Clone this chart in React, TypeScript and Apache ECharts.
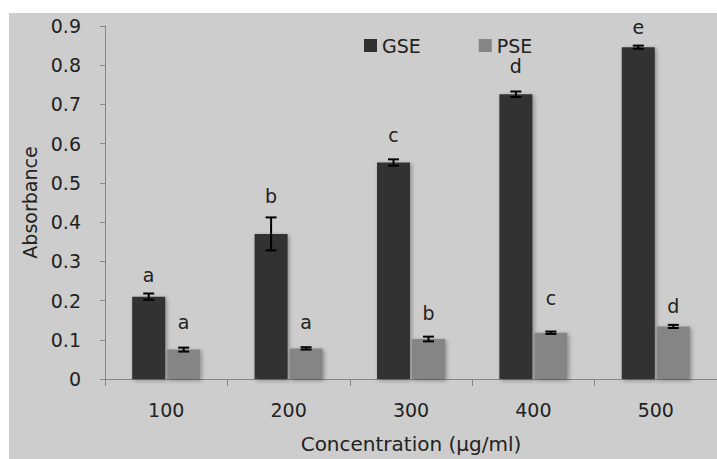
import React, { useEffect, useRef } from "react";
import * as echarts from "echarts";

const categories = ["100", "200", "300", "400", "500"];
const gseValues = [0.21, 0.37, 0.552, 0.726, 0.846];
const gseErrors = [0.008, 0.042, 0.008, 0.007, 0.004];
const pseValues = [0.075, 0.078, 0.102, 0.118, 0.134];
const pseErrors = [0.005, 0.003, 0.006, 0.003, 0.004];
const gseLetters = ["a", "b", "c", "d", "e"];
const pseLetters = ["a", "a", "b", "c", "d"];
const gseLetterY = [0.265, 0.4675, 0.6225, 0.7975, 0.8975];
const pseLetterY = [0.145, 0.145, 0.1675, 0.2075, 0.185];

const FONT = "DejaVu Sans";
const TEXT = "#222222";
const AXIS = "#868686";
const GSE_COLOR = "#303030";
const PSE_COLOR = "#858585";
const BAR_W = 33;
const GAP = 2;

function errorSeries(values: number[], errors: number[], letters: string[], letterY: number[], offset: number) {
  return {
    type: "custom",
    silent: true,
    clip: false,
    z: 10,
    data: values.map((v, i) => [i, v, errors[i], letterY[i]]),
    renderItem: (params: any, api: any) => {
      const idx = api.value(0);
      const v = api.value(1);
      const e = api.value(2);
      const ly = api.value(3);
      const top = api.coord([idx, v + e]);
      const bot = api.coord([idx, v - e]);
      const x = top[0] + offset;
      const cap = 5.5;
      const lp = api.coord([idx, ly]);
      return {
        type: "group",
        children: [
          { type: "line", shape: { x1: x, y1: top[1], x2: x, y2: bot[1] }, style: { stroke: "#000", lineWidth: 2 } },
          { type: "line", shape: { x1: x - cap, y1: top[1], x2: x + cap, y2: top[1] }, style: { stroke: "#000", lineWidth: 2 } },
          { type: "line", shape: { x1: x - cap, y1: bot[1], x2: x + cap, y2: bot[1] }, style: { stroke: "#000", lineWidth: 2 } },
          {
            type: "text",
            x: x,
            y: lp[1],
            style: {
              text: letters[params.dataIndex],
              fill: TEXT,
              font: `19px "${FONT}"`,
              align: "center",
              verticalAlign: "middle",
            },
          },
        ],
      };
    },
  };
}

export default function App() {
  const ref = useRef<HTMLDivElement>(null);
  useEffect(() => {
    document.body.style.margin = "0";
    document.body.style.overflow = "hidden";
    document.documentElement.style.overflow = "hidden";
    if (!ref.current) return;
    const chart = echarts.init(ref.current, null, { renderer: "svg" });
    const barShadow = {
      shadowBlur: 4,
      shadowColor: "rgba(0,0,0,0.35)",
      shadowOffsetX: 1.5,
      shadowOffsetY: 1.5,
    };
    chart.setOption({
      animation: false,
      backgroundColor: "transparent",
      textStyle: { fontFamily: FONT },
      grid: { left: 105, top: 26, width: 622, height: 360, containLabel: false },
      legend: {
        left: 359,
        top: 31,
        itemWidth: 13,
        itemHeight: 13,
        itemGap: 58,
        icon: "rect",
        textStyle: { fontFamily: FONT, fontSize: 19, color: TEXT },
        data: ["GSE", "PSE"],
      },
      xAxis: {
        type: "category",
        data: categories,
        axisLine: { lineStyle: { color: AXIS, width: 1 } },
        axisTick: { show: true, length: 7, lineStyle: { color: AXIS } },
        axisLabel: { fontFamily: FONT, fontSize: 19, color: TEXT, margin: 21 },
        name: "Concentration (µg/ml)",
        nameLocation: "middle",
        nameGap: 55,
        nameTextStyle: { fontFamily: FONT, fontSize: 20, color: TEXT },
      },
      yAxis: {
        type: "value",
        min: 0,
        max: 0.9,
        interval: 0.1,
        splitLine: { show: false },
        axisLine: { show: true, lineStyle: { color: AXIS, width: 1 } },
        axisTick: { show: true, length: 5, lineStyle: { color: AXIS } },
        axisLabel: {
          fontFamily: FONT,
          fontSize: 19,
          color: TEXT,
          margin: 24,
          formatter: (v: number) => (v === 0 ? "0" : v.toFixed(1)),
        },
        name: "Absorbance",
        nameLocation: "middle",
        nameGap: 64,
        nameTextStyle: { fontFamily: FONT, fontSize: 19, color: TEXT },
      },
      series: [
        {
          name: "GSE",
          type: "bar",
          data: gseValues,
          barWidth: BAR_W,
          barGap: `${(GAP / BAR_W) * 100}%`,
          itemStyle: { color: GSE_COLOR, ...barShadow },
        },
        {
          name: "PSE",
          type: "bar",
          data: pseValues,
          barWidth: BAR_W,
          barGap: `${(GAP / BAR_W) * 100}%`,
          itemStyle: { color: PSE_COLOR, ...barShadow },
        },
        errorSeries(gseValues, gseErrors, gseLetters, gseLetterY, -(BAR_W + GAP) / 2),
        errorSeries(pseValues, pseErrors, pseLetters, pseLetterY, (BAR_W + GAP) / 2),
      ],
    });
    return () => chart.dispose();
  }, []);
  return (
    <div style={{ position: "relative", width: 717, height: 459, background: "#ffffff", overflow: "hidden" }}>
      <div style={{ position: "absolute", left: 9, top: 13, width: 708, height: 446, background: "#cdcdcd" }} />
      <div ref={ref} style={{ position: "absolute", left: 0, top: 0, width: 717, height: 459 }} />
    </div>
  );
}
